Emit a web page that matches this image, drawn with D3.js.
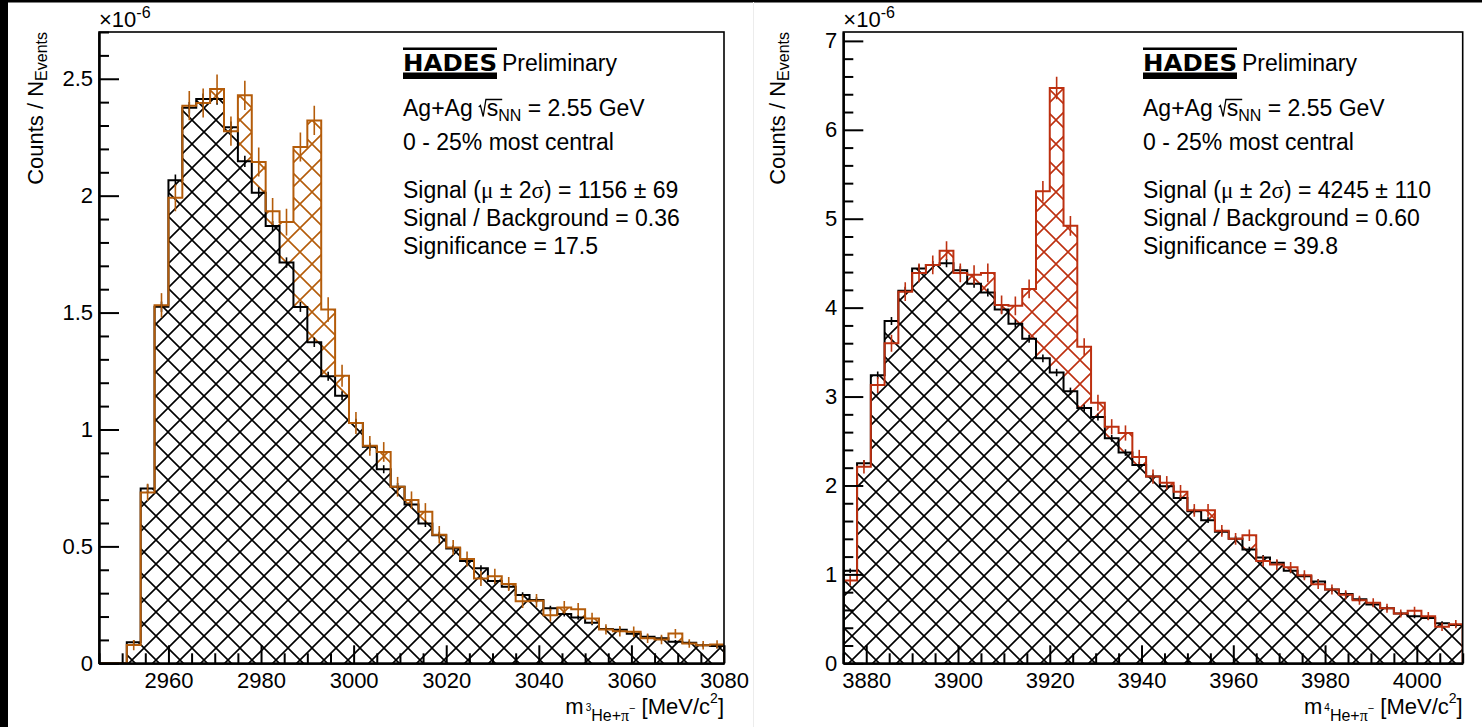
<!DOCTYPE html>
<html>
<head>
<meta charset="utf-8">
<script src="https://cdn.jsdelivr.net/npm/d3@7"></script>
<style>
  body { margin: 0; background: #fff; }
  svg text { font-family: "Liberation Sans", Arial, Helvetica, sans-serif; fill: #000; }
</style>
</head>
<body>
<svg id="chart" width="1482" height="727"></svg>
<script>
// 45 bins of 3 MeV/c2 in each panel
const binWidth = 3;

// ---- 3He + pi- (left panel), values in units of 1e-6
const he3Range = [2945, 3080];
const he3Signal = [0, 0, 0.078, 0.731, 1.531, 1.991, 2.385, 2.396, 2.456, 2.276,
  2.429, 2.144, 1.933, 1.887, 2.208, 2.322, 1.513, 1.230, 1.028, 0.930,
  0.904, 0.755, 0.698, 0.648, 0.550, 0.495, 0.446, 0.363, 0.372, 0.339,
  0.265, 0.268, 0.206, 0.239, 0.231, 0.192, 0.145, 0.137, 0.135, 0.107,
  0.102, 0.127, 0.085, 0.077, 0.080];
const he3SignalErr = [0, 0, 0.02, 0.035, 0.05, 0.055, 0.06, 0.06, 0.06, 0.06,
  0.06, 0.06, 0.055, 0.055, 0.06, 0.06, 0.05, 0.045, 0.045, 0.04,
  0.04, 0.04, 0.035, 0.035, 0.035, 0.03, 0.03, 0.03, 0.03, 0.028,
  0.026, 0.026, 0.025, 0.025, 0.025, 0.022, 0.02, 0.02, 0.02, 0.018,
  0.018, 0.018, 0.016, 0.016, 0.016];
const he3Background = [0, 0, 0.090, 0.748, 1.525, 2.066, 2.376, 2.413, 2.413, 2.293,
  2.147, 2.013, 1.870, 1.714, 1.524, 1.373, 1.228, 1.144, 1.028, 0.926,
  0.830, 0.755, 0.679, 0.598, 0.548, 0.491, 0.437, 0.406, 0.352, 0.327,
  0.292, 0.271, 0.235, 0.211, 0.196, 0.173, 0.147, 0.144, 0.126, 0.114,
  0.107, 0.092, 0.088, 0.077, 0.074];
const he3BackgroundErr = [0, 0, 0.008, 0.015, 0.02, 0.022, 0.022, 0.022, 0.022, 0.022,
  0.022, 0.021, 0.02, 0.02, 0.019, 0.018, 0.017, 0.017, 0.016, 0.015,
  0.015, 0.014, 0.013, 0.013, 0.012, 0.012, 0.011, 0.011, 0.01, 0.01,
  0.01, 0.009, 0.009, 0.009, 0.008, 0.008, 0.008, 0.008, 0.007, 0.007,
  0.007, 0.006, 0.006, 0.006, 0.006];
const he3MassTicks = [2960, 2980, 3000, 3020, 3040, 3060, 3080];
const he3CountTicks = [0, 0.5, 1, 1.5, 2, 2.5];
const he3Stats = ['1156 ± 69', '0.36', '17.5'];

// ---- 4He + pi- (right panel)
const he4Range = [3875, 4010];
const he4Signal = [0.93, 2.21, 3.13, 3.60, 4.18, 4.39, 4.48, 4.64, 4.39, 4.37,
  4.39, 4.03, 4.02, 4.21, 5.31, 6.47, 4.92, 3.56, 2.93, 2.66,
  2.59, 2.32, 2.10, 2.03, 1.93, 1.72, 1.72, 1.49, 1.40, 1.44,
  1.15, 1.11, 1.08, 0.99, 0.89, 0.83, 0.77, 0.71, 0.68, 0.62,
  0.56, 0.59, 0.53, 0.41, 0.44];
const he4SignalErr = [0.05, 0.07, 0.085, 0.09, 0.1, 0.1, 0.1, 0.1, 0.1, 0.1,
  0.1, 0.1, 0.1, 0.1, 0.11, 0.12, 0.105, 0.09, 0.085, 0.08,
  0.08, 0.075, 0.075, 0.07, 0.07, 0.065, 0.065, 0.06, 0.06, 0.06,
  0.055, 0.055, 0.055, 0.05, 0.05, 0.05, 0.045, 0.045, 0.045, 0.045,
  0.04, 0.04, 0.04, 0.04, 0.04];
const he4Background = [1.04, 2.25, 3.24, 3.85, 4.19, 4.44, 4.48, 4.50, 4.42, 4.27,
  4.17, 3.98, 3.82, 3.65, 3.43, 3.27, 3.06, 2.87, 2.77, 2.53,
  2.37, 2.23, 2.10, 1.99, 1.86, 1.71, 1.61, 1.48, 1.40, 1.28,
  1.19, 1.13, 1.04, 0.98, 0.92, 0.83, 0.78, 0.72, 0.66, 0.62,
  0.56, 0.53, 0.51, 0.45, 0.43];
const he4BackgroundErr = [0.02, 0.03, 0.035, 0.04, 0.04, 0.04, 0.04, 0.04, 0.04, 0.04,
  0.04, 0.04, 0.04, 0.04, 0.038, 0.036, 0.035, 0.034, 0.033, 0.032,
  0.031, 0.03, 0.03, 0.029, 0.028, 0.027, 0.026, 0.025, 0.025, 0.024,
  0.023, 0.022, 0.022, 0.021, 0.02, 0.02, 0.02, 0.019, 0.019, 0.018,
  0.018, 0.017, 0.017, 0.016, 0.016];
const he4MassTicks = [3880, 3900, 3920, 3940, 3960, 3980, 4000];
const he4CountTicks = [0, 1, 2, 3, 4, 5, 6, 7];
const he4Stats = ['4245 ± 110', '0.60', '39.8'];

const hatchStep = 24;

const panels = [
  {
    id: 'he3', left: 99, right: 724, top: 32, bottom: 663.3,
    xDomain: he3Range, yDomain: [0, 2.7], yMinorStep: 0.1,
    signal: he3Signal, signalErr: he3SignalErr,
    background: he3Background, backgroundErr: he3BackgroundErr,
    xTicks: he3MassTicks, yTicks: he3CountTicks, stats: he3Stats,
    color: '#b45c0a', isotope: '3', textX: 403, titleX: 43,
  },
  {
    id: 'he4', left: 843.3, right: 1462.7, top: 32, bottom: 663.3,
    xDomain: he4Range, yDomain: [0, 7.1], yMinorStep: 0.2,
    signal: he4Signal, signalErr: he4SignalErr,
    background: he4Background, backgroundErr: he4BackgroundErr,
    xTicks: he4MassTicks, yTicks: he4CountTicks, stats: he4Stats,
    color: '#bd3010', isotope: '4', textX: 1143, titleX: 785,
  },
];

const svg = d3.select('#chart');
const defs = svg.append('defs');

svg.append('rect').attr('width', 1482).attr('height', 727).attr('fill', '#fff');
svg.append('rect').attr('x', 0).attr('y', 0).attr('width', 8).attr('height', 727).attr('fill', '#000');
svg.append('rect').attr('x', 0).attr('y', 0).attr('width', 1482).attr('height', 2.5).attr('fill', '#000');
svg.append('line')
  .attr('x1', 753.5).attr('x2', 753.5).attr('y1', 2).attr('y2', 727)
  .attr('stroke', '#ececec').attr('stroke-width', 1);

function makeHatch(id, color) {
  const p = hatchStep;
  defs.append('pattern')
    .attr('id', id)
    .attr('patternUnits', 'userSpaceOnUse')
    .attr('width', p)
    .attr('height', p)
    .append('path')
      .attr('d', `M${-p / 2},${p / 2}L${p / 2},${-p / 2}M0,${p}L${p},0M${p / 2},${1.5 * p}L${1.5 * p},${p / 2}`
        + `M${-p / 2},${p / 2}L${p / 2},${1.5 * p}M0,0L${p},${p}M${p / 2},${-p / 2}L${1.5 * p},${p / 2}`)
      .attr('stroke', color)
      .attr('stroke-width', 1.6)
      .attr('fill', 'none');
}
makeHatch('hatch-black', '#000');
panels.forEach((cfg) => makeHatch(`hatch-${cfg.id}`, cfg.color));

function drawPanel(cfg) {
  const nBins = cfg.signal.length;
  const edges = d3.range(nBins + 1).map((i) => cfg.xDomain[0] + i * binWidth);
  const centers = edges.slice(0, nBins).map((e) => e + binWidth / 2);

  const x = d3.scaleLinear(cfg.xDomain, [cfg.left, cfg.right]);
  const y = d3.scaleLinear(cfg.yDomain, [cfg.bottom, cfg.top]);

  const g = svg.append('g');

  defs.append('clipPath').attr('id', `clip-${cfg.id}`)
    .append('rect')
      .attr('x', cfg.left).attr('y', cfg.top)
      .attr('width', cfg.right - cfg.left).attr('height', cfg.bottom - cfg.top);

  const plot = g.append('g').attr('clip-path', `url(#clip-${cfg.id})`);

  const steps = (values) => [[edges[0], 0]]
    .concat(values.map((v, i) => [edges[i], v]))
    .concat([[edges[nBins], values[nBins - 1]], [edges[nBins], 0]]);

  const area = d3.area()
    .x((d) => x(d[0]))
    .y0(y(0))
    .y1((d) => y(d[1]))
    .curve(d3.curveStepAfter);

  const line = d3.line()
    .x((d) => x(d[0]))
    .y((d) => y(d[1]))
    .curve(d3.curveStepAfter);

  plot.append('path')
    .attr('d', area(steps(cfg.signal)))
    .attr('fill', `url(#hatch-${cfg.id})`);

  // white underlay so the coloured hatch does not bleed through the black one
  plot.append('path')
    .attr('d', area(steps(cfg.background)))
    .attr('fill', '#fff');
  plot.append('path')
    .attr('d', area(steps(cfg.background)))
    .attr('fill', 'url(#hatch-black)');

  plot.append('path')
    .attr('d', line(steps(cfg.background)))
    .attr('fill', 'none')
    .attr('stroke', '#000')
    .attr('stroke-width', 2);

  plot.append('path')
    .attr('d', line(steps(cfg.signal)))
    .attr('fill', 'none')
    .attr('stroke', cfg.color)
    .attr('stroke-width', 2);

  const errorBars = (values, errs, color) => {
    plot.append('g')
      .selectAll('line')
      .data(values.map((v, i) => ({ c: centers[i], v, e: errs[i] })).filter((d) => d.v > 0))
      .join('line')
        .attr('x1', (d) => x(d.c))
        .attr('x2', (d) => x(d.c))
        .attr('y1', (d) => y(d.v - d.e) + 0.5)
        .attr('y2', (d) => y(d.v + d.e) - 0.5)
        .attr('stroke', color)
        .attr('stroke-width', 1.6);
  };
  errorBars(cfg.background, cfg.backgroundErr, '#000');
  errorBars(cfg.signal, cfg.signalErr, cfg.color);

  // frame
  g.append('rect')
    .attr('x', cfg.left).attr('y', cfg.top)
    .attr('width', cfg.right - cfg.left).attr('height', cfg.bottom - cfg.top)
    .attr('fill', 'none')
    .attr('stroke', '#000')
    .attr('stroke-width', 1.6);

  // axes, ticks point inwards like ROOT
  const xMinor = d3.range(Math.ceil(cfg.xDomain[0] / 5) * 5, cfg.xDomain[1] + 0.1, 5)
    .filter((v) => !cfg.xTicks.includes(v));
  const yMinor = d3.range(0, cfg.yDomain[1] + 1e-9, cfg.yMinorStep)
    .map((v) => +v.toFixed(3))
    .filter((v) => !cfg.yTicks.includes(v));

  const styleAxis = (sel) => {
    sel.attr('font-family', null).attr('font-size', null);
    sel.selectAll('.tick line').attr('stroke', '#000').attr('stroke-width', 2);
    sel.selectAll('.tick text').style('font-size', '22px').attr('fill', '#000');
    sel.select('.domain').attr('stroke', '#000').attr('stroke-width', 2);
  };

  g.append('g')
    .attr('transform', `translate(0,${cfg.bottom})`)
    .call(d3.axisBottom(x).tickValues(cfg.xTicks).tickSize(-18).tickSizeOuter(0).tickPadding(9).tickFormat(d3.format('d')))
    .call(styleAxis);
  g.append('g')
    .attr('transform', `translate(0,${cfg.bottom})`)
    .call(d3.axisBottom(x).tickValues(xMinor).tickSize(-10).tickSizeOuter(0).tickFormat(''))
    .call(styleAxis);

  g.append('g')
    .attr('transform', `translate(${cfg.left},0)`)
    .call(d3.axisLeft(y).tickValues(cfg.yTicks).tickSize(-20).tickSizeOuter(0).tickPadding(6).tickFormat((d) => String(d)))
    .call(styleAxis);
  g.append('g')
    .attr('transform', `translate(${cfg.left},0)`)
    .call(d3.axisLeft(y).tickValues(yMinor).tickSize(-10).tickSizeOuter(0).tickFormat(''))
    .call(styleAxis);

  // x10^-6 exponent
  const expo = g.append('text').attr('x', cfg.left).attr('y', 26.5).style('font-size', '22px');
  expo.append('tspan').text('×10');
  expo.append('tspan').attr('dy', -9).style('font-size', '16px').text('-6');

  // y title
  const yTitle = g.append('text')
    .attr('transform', `translate(${cfg.titleX},${cfg.top}) rotate(-90)`)
    .attr('text-anchor', 'end')
    .style('font-size', '22px');
  yTitle.append('tspan').text('Counts / N');
  yTitle.append('tspan').attr('dy', 4).style('font-size', '16px').text('Events');

  // x title
  const xTitle = g.append('text')
    .attr('x', cfg.right)
    .attr('y', 714)
    .attr('text-anchor', 'end')
    .style('font-size', '22px');
  xTitle.append('tspan').text('m');
  xTitle.append('tspan').attr('dx', 2).attr('dy', -3).style('font-size', '10px').text(cfg.isotope);
  xTitle.append('tspan').attr('dy', 10).style('font-size', '16px').text('He+');
  xTitle.append('tspan').style('font-size', '16px').style('font-family', '"Liberation Serif", serif').text('π');
  xTitle.append('tspan').attr('dy', -9).style('font-size', '11px').text('−');
  xTitle.append('tspan').attr('dy', 2).text(' [MeV/c');
  xTitle.append('tspan').attr('dy', -11).style('font-size', '14px').text('2');
  xTitle.append('tspan').attr('dy', 11).text(']');

  drawInfo(g, cfg);
}

function drawInfo(g, cfg) {
  const x0 = cfg.textX;
  const logoW = 94;
  g.append('rect').attr('x', x0).attr('y', 47.5).attr('width', logoW).attr('height', 2.5).attr('fill', '#000');
  g.append('text')
    .attr('x', x0).attr('y', 71)
    .attr('textLength', logoW)
    .attr('lengthAdjust', 'spacingAndGlyphs')
    .style('font-family', '"DejaVu Sans", sans-serif')
    .style('font-weight', 'bold')
    .style('font-size', '23px')
    .text('HADES');
  g.append('rect').attr('x', x0).attr('y', 72.5).attr('width', logoW).attr('height', 6.5).attr('fill', '#000');
  g.append('text').attr('x', x0 + logoW + 5).attr('y', 70.5).style('font-size', '23px').text('Preliminary');

  // Ag+Ag sqrt(s_NN)
  const t1 = g.append('text').attr('x', x0).attr('y', 116).style('font-size', '23px');
  t1.append('tspan').text('Ag+Ag');
  const sPart = t1.append('tspan').attr('dx', 14).text('s');
  const nnPart = t1.append('tspan').attr('dy', 5).style('font-size', '16px').text('NN');
  t1.append('tspan').attr('dy', -5).text(' = 2.55 GeV');
  const sb = sPart.node().getBBox();
  const nb = nnPart.node().getBBox();
  const base = 116;
  g.append('path')
    .attr('d', `M${sb.x - 8},${base - 9}L${sb.x - 6.3},${base - 10.5}L${sb.x - 3.5},${base + 0.5}`
      + `L${sb.x - 0.8},${base - 16.5}L${nb.x + 4},${base - 16.5}`)
    .attr('fill', 'none')
    .attr('stroke', '#000')
    .attr('stroke-width', 1.3);

  g.append('text').attr('x', x0).attr('y', 150).style('font-size', '23px').text('0 - 25% most central');

  const serif = '"Liberation Serif", "Times New Roman", serif';
  const t3 = g.append('text').attr('x', x0).attr('y', 198).style('font-size', '23px');
  t3.append('tspan').text('Signal (');
  t3.append('tspan').style('font-family', serif).text('μ');
  t3.append('tspan').text(' ± 2');
  t3.append('tspan').style('font-family', serif).text('σ');
  t3.append('tspan').text(`) = ${cfg.stats[0]}`);

  g.append('text').attr('x', x0).attr('y', 226).style('font-size', '23px')
    .text(`Signal / Background = ${cfg.stats[1]}`);
  g.append('text').attr('x', x0).attr('y', 254).style('font-size', '23px')
    .text(`Significance = ${cfg.stats[2]}`);
}

panels.forEach(drawPanel);
</script>
</body>
</html>
